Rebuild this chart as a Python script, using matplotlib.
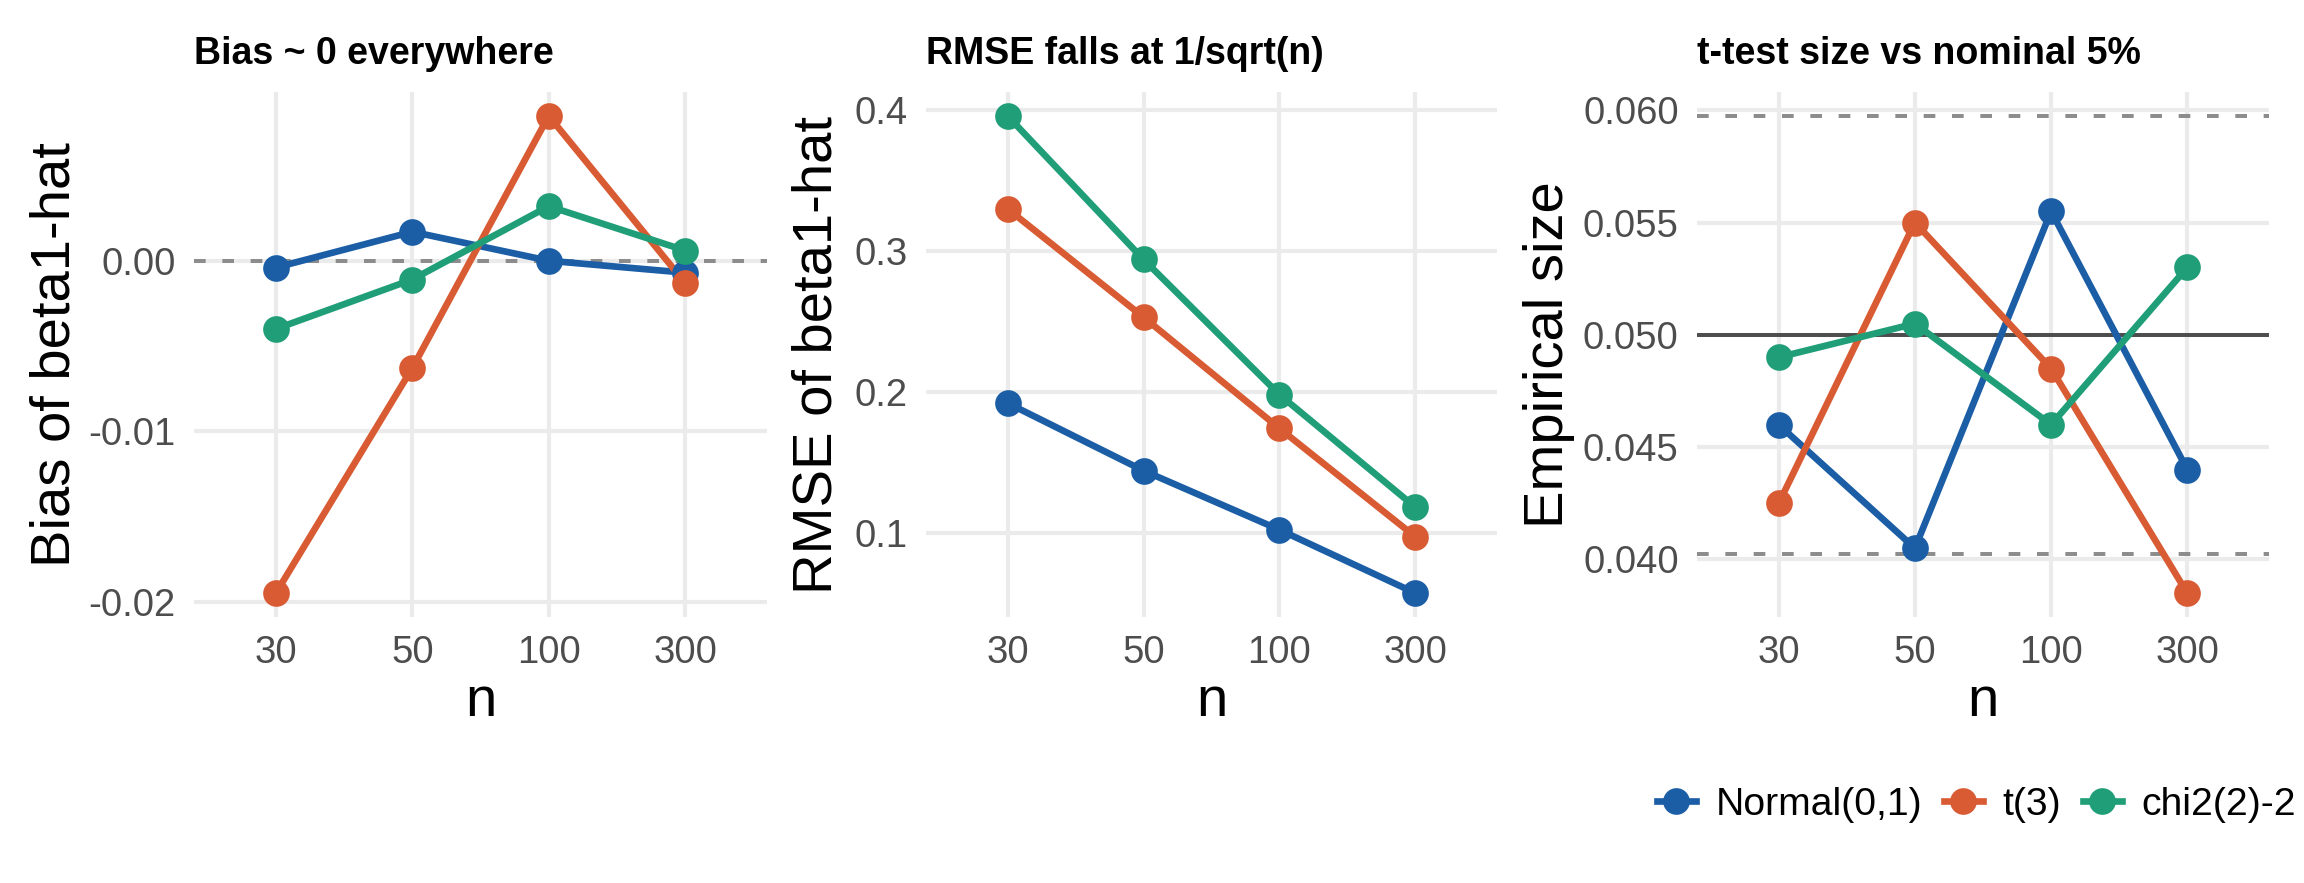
import matplotlib
matplotlib.use("Agg")
import matplotlib.pyplot as plt
from matplotlib.lines import Line2D

plt.rcParams['font.family'] = ['Liberation Sans', 'DejaVu Sans']
plt.rcParams['lines.scale_dashes'] = False

# simulation summary: bias, RMSE and t-test size of beta1-hat by n and error law
n_labels = ["30", "50", "100", "300"]
dists = ["Normal(0,1)", "t(3)", "chi2(2)-2"]
colors = ["#1B5EA6", "#D95B33", "#1F9E77"]

bias_normal = [-0.0004, 0.0017, 0.0000, -0.0007]
bias_t3 = [-0.0195, -0.0063, 0.0085, -0.0013]
bias_chi2 = [-0.0040, -0.0011, 0.0032, 0.0006]

rmse_normal = [0.192, 0.144, 0.102, 0.057]
rmse_t3 = [0.330, 0.253, 0.174, 0.097]
rmse_chi2 = [0.396, 0.294, 0.198, 0.118]

size_normal = [0.0460, 0.0405, 0.0555, 0.0440]
size_t3 = [0.0425, 0.0550, 0.0485, 0.0385]
size_chi2 = [0.0490, 0.0505, 0.0460, 0.0530]

nominal = 0.05
band_lo = 0.04025
band_hi = 0.05975

W, H = 2304, 883
fig = plt.figure(figsize=(W / 300, H / 300), dpi=300)

top, bottom = 92, 617
panels = [  # left, right in pixels, y-title offset
    (194, 767, 138),
    (926, 1497, 108),
    (1697, 2269, 148),
]

LW = 1.6
MS = 5.4


def make_ax(left, right):
    return fig.add_axes([left / W, 1 - bottom / H, (right - left) / W, (bottom - top) / H])


def style(ax, title, ylabel, ytitle_off, left, right, yticks, fmt, lims):
    wpx = right - left
    hpx = bottom - top
    lo, hi = min(lims), max(lims)
    pad = (hi - lo) * 0.05
    ax.set_ylim(lo - pad, hi + pad)
    ax.set_xlim(-0.6, 3.6)
    ax.set_xticks(range(len(n_labels)))
    ax.set_xticklabels(n_labels)
    ax.set_yticks(yticks)
    ax.set_yticklabels([fmt.format(v) for v in yticks])
    for s in ax.spines.values():
        s.set_visible(False)
    ax.tick_params(length=0, labelsize=9.2, labelcolor="#4D4D4D", pad=4.4)
    ax.grid(True, color="#EBEBEB", linewidth=1.0, zorder=0)
    ax.set_axisbelow(True)
    ax.set_xlabel("n", fontsize=13.5, va="center")
    ax.xaxis.set_label_coords(0.5, -85 / hpx)
    ax.set_ylabel(ylabel, fontsize=13.5, va="center")
    ax.yaxis.set_label_coords(-ytitle_off / wpx, 0.5)
    ax.text(0, 1 + 28 / hpx, title, transform=ax.transAxes, fontsize=9,
            fontweight="bold", ha="left", va="baseline")


def draw(ax, series):
    x = range(len(n_labels))
    for vals, c in zip(series, colors):
        ax.plot(x, vals, color=c, linewidth=LW, zorder=3)
    for vals, c in zip(series, colors):
        ax.plot(x, vals, "o", color=c, markersize=MS, zorder=4)


# panel 1: bias
ax1 = make_ax(*panels[0][:2])
ax1.axhline(0, color="#8C8C8C", linewidth=0.95, dashes=(2.8, 4.0), zorder=2)
s1 = [bias_normal, bias_t3, bias_chi2]
draw(ax1, s1)
style(ax1, "Bias ~ 0 everywhere", "Bias of beta1-hat", panels[0][2], *panels[0][:2],
      [-0.02, -0.01, 0.00], "{:.2f}", sum(s1, [0.0]))

# panel 2: RMSE
ax2 = make_ax(*panels[1][:2])
s2 = [rmse_normal, rmse_t3, rmse_chi2]
draw(ax2, s2)
style(ax2, "RMSE falls at 1/sqrt(n)", "RMSE of beta1-hat", panels[1][2], *panels[1][:2],
      [0.1, 0.2, 0.3, 0.4], "{:.1f}", sum(s2, []))

# panel 3: size of t-test
ax3 = make_ax(*panels[2][:2])
ax3.axhline(nominal, color="#4D4D4D", linewidth=0.95, zorder=2)
for b in (band_lo, band_hi):
    ax3.axhline(b, color="#8C8C8C", linewidth=0.95, dashes=(2.8, 4.0), zorder=2)
s3 = [size_normal, size_t3, size_chi2]
draw(ax3, s3)
style(ax3, "t-test size vs nominal 5%", "Empirical size", panels[2][2], *panels[2][:2],
      [0.040, 0.045, 0.050, 0.055, 0.060], "{:.3f}",
      sum(s3, [band_lo, band_hi, nominal]))

handles = [Line2D([], [], color=c, linewidth=LW, marker="o", markersize=MS) for c in colors]
fig.legend(handles, dists, loc="center right", bbox_to_anchor=(2296 / W, 1 - 805 / H),
           ncol=3, frameon=False, fontsize=9.4, handlelength=1.0, handletextpad=0.5,
           columnspacing=0.55, borderaxespad=0, borderpad=0)

fig.savefig("out.png", dpi=300, facecolor="white")
